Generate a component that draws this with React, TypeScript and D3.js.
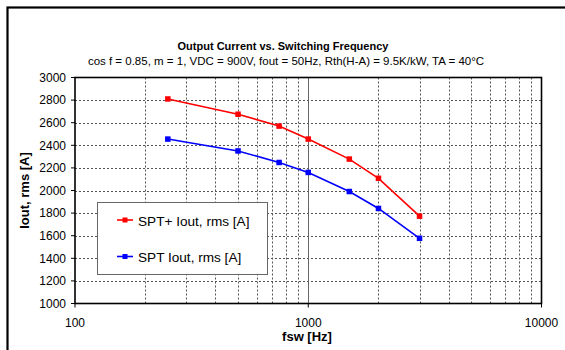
import React from "react";
import * as d3 from "d3";

const frequencies = [250, 500, 750, 1000, 1500, 2000, 3000];
const sptPlus = [2810, 2675, 2570, 2455, 2278, 2108, 1773];
const spt = [2455, 2350, 2248, 2160, 1991, 1841, 1577];
const yTicks = [1000, 1200, 1400, 1600, 1800, 2000, 2200, 2400, 2600, 2800, 3000];
const xMajor = [100, 1000, 10000];

const series = [
  { name: "SPT+ Iout, rms [A]", values: sptPlus, color: "#ff0000" },
  { name: "SPT Iout, rms [A]", values: spt, color: "#0000ff" },
];

const W = 565;
const H = 350;
const plot = { left: 75, right: 541.5, top: 77.5, bottom: 303.5 };
const font = "'Liberation Sans', Arial, sans-serif";

export default function App() {
  const x = d3.scaleLog().domain([100, 10000]).range([plot.left, plot.right]);
  const y = d3.scaleLinear().domain([1000, 3000]).range([plot.bottom, plot.top]);

  const minor: number[] = [];
  for (const dec of [100, 1000]) {
    for (let k = 2; k <= 9; k++) minor.push(dec * k);
  }

  const line = d3
    .line<number>()
    .x((_, i) => x(frequencies[i]))
    .y((v) => y(v));

  return (
    <svg
      width={W}
      height={H}
      style={{ position: "absolute", left: 0, top: 0, background: "#fff" }}
      fontFamily={font}
    >
      <rect x={0} y={0} width={W} height={H} fill="#fff" />
      {/* outer chart frame */}
      <rect x={7.5} y={7.5} width={W + 10} height={H + 10} fill="none" stroke="#000" strokeWidth={2.2} />

      <text x={283} y={50} textAnchor="middle" fontSize={11} fontWeight="bold">
        Output Current vs. Switching Frequency
      </text>
      <text x={286} y={65} textAnchor="middle" fontSize={11.5}>
        cos f = 0.85, m = 1, VDC = 900V, fout = 50Hz, Rth(H-A) = 9.5K/kW, TA = 40°C
      </text>

      {/* horizontal grid */}
      {yTicks.slice(1, -1).map((t) => (
        <line
          key={"gy" + t}
          x1={plot.left}
          x2={plot.right}
          y1={Math.round(y(t)) + 0.5}
          y2={Math.round(y(t)) + 0.5}
          stroke="#555"
          strokeWidth={1}
          strokeDasharray="2,2"
        />
      ))}
      {/* vertical minor grid */}
      {minor.map((f) => (
        <line
          key={"gx" + f}
          x1={Math.round(x(f)) + 0.5}
          x2={Math.round(x(f)) + 0.5}
          y1={plot.top}
          y2={plot.bottom}
          stroke="#555"
          strokeWidth={1}
          strokeDasharray="2,2"
        />
      ))}
      {/* decade grid */}
      <line
        x1={Math.round(x(1000)) + 0.5}
        x2={Math.round(x(1000)) + 0.5}
        y1={plot.top}
        y2={plot.bottom}
        stroke="#666"
        strokeWidth={1}
      />

      {/* plot border */}
      <rect
        x={plot.left}
        y={plot.top}
        width={plot.right - plot.left}
        height={plot.bottom - plot.top}
        fill="none"
        stroke="#000"
        strokeWidth={1.6}
      />

      {/* y axis ticks and labels */}
      {yTicks.map((t) => (
        <g key={"yt" + t}>
          <line x1={plot.left - 4} x2={plot.left} y1={y(t)} y2={y(t)} stroke="#000" strokeWidth={1} />
          <text x={plot.left - 9} y={y(t) + 4.2} textAnchor="end" fontSize={12}>
            {t}
          </text>
        </g>
      ))}
      {/* x axis ticks and labels */}
      {xMajor.map((f) => (
        <g key={"xt" + f}>
          <line x1={x(f)} x2={x(f)} y1={plot.bottom} y2={plot.bottom + 4} stroke="#000" strokeWidth={1} />
          <text x={x(f)} y={plot.bottom + 23.5} textAnchor="middle" fontSize={12}>
            {f}
          </text>
        </g>
      ))}

      <text
        transform={`translate(29, ${(plot.top + plot.bottom) / 2}) rotate(-90)`}
        textAnchor="middle"
        fontSize={13}
        fontWeight="bold"
      >
        Iout, rms [A]
      </text>
      <text x={307} y={341} textAnchor="middle" fontSize={13} fontWeight="bold">
        fsw [Hz]
      </text>

      {/* series */}
      {series.map((s) => (
        <g key={s.name}>
          <path d={line(s.values) ?? ""} fill="none" stroke={s.color} strokeWidth={1.6} />
          {s.values.map((v, i) => (
            <rect
              key={i}
              x={x(frequencies[i]) - 2.75}
              y={y(v) - 2.75}
              width={5.5}
              height={5.5}
              fill={s.color}
            />
          ))}
        </g>
      ))}

      {/* legend */}
      <rect x={97.5} y={202.5} width={170} height={72} fill="#fff" stroke="#666" strokeWidth={1} />
      {series.map((s, i) => {
        const ly = 220 + i * 36.5;
        return (
          <g key={"lg" + s.name}>
            <line x1={117} x2={133} y1={ly} y2={ly} stroke={s.color} strokeWidth={1.6} />
            <rect x={122.5} y={ly - 2.5} width={5} height={5} fill={s.color} />
            <text x={138} y={ly + 5.5} fontSize={13.6}>
              {s.name}
            </text>
          </g>
        );
      })}
    </svg>
  );
}
